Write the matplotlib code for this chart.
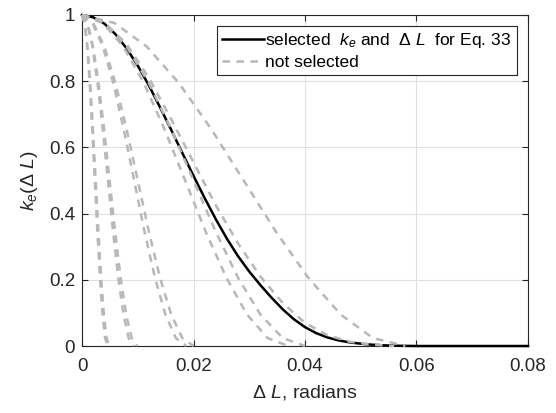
import matplotlib
matplotlib.use("Agg")
import matplotlib.pyplot as plt
from matplotlib.ticker import FormatStrFormatter

plt.rcParams['font.family'] = ['Liberation Sans', 'DejaVu Sans']
plt.rcParams['mathtext.fontset'] = 'custom'
plt.rcParams['mathtext.rm'] = 'Liberation Sans'
plt.rcParams['mathtext.it'] = 'Liberation Sans:italic'

# selected curve
sel_x = [0, 0.002, 0.004, 0.006, 0.008, 0.010, 0.012, 0.014, 0.016, 0.018,
         0.020, 0.022, 0.024, 0.026, 0.028, 0.030, 0.032, 0.034, 0.036, 0.038,
         0.040, 0.042, 0.044, 0.046, 0.048, 0.050, 0.052, 0.054, 0.056, 0.058,
         0.060, 0.080]
sel_y = [1, 0.993, 0.974, 0.942, 0.899, 0.847, 0.787, 0.721, 0.653, 0.583,
         0.514, 0.447, 0.383, 0.324, 0.271, 0.225, 0.184, 0.146, 0.111, 0.081,
         0.057, 0.039, 0.026, 0.017, 0.011, 0.007, 0.004, 0.0022, 0.0011, 0.0004,
         0, 0]

# not selected curves: levels shared by the taper curves, x per curve
grey_levels = [1, 0.976, 0.905, 0.794, 0.655, 0.5, 0.345, 0.206, 0.095, 0.024, 0]
grey_x = [
    [0, .00046, .00092, .00138, .00184, .0023, .00276, .00322, .00368, .00414, .0046],
    [0, .00049, .00098, .00147, .00196, .00245, .00294, .00343, .00392, .00441, .0049],
    [0, .00093, .00186, .00279, .00372, .00465, .00558, .00651, .00744, .00837, .0093],
    [0, .00099, .00198, .00297, .00396, .00495, .00594, .00693, .00792, .00891, .0099],
    [0, .00187, .00374, .00561, .00748, .00935, .01122, .01309, .01496, .01683, .0187],
    [0, .002, .004, .006, .008, .010, .012, .014, .016, .018, .020],
    [0, .0037, .0074, .0111, .0148, .0185, .0222, .0259, .0296, .0333, .037],
    [0, .004, .008, .012, .016, .020, .024, .028, .032, .036, .040],
    [0, .0058, .0116, .0174, .0232, .029, .0348, .0406, .0464, .0522, .058],
]

# grey curve that hugs the selected one
hug_x = [0, 0.004, 0.008, 0.012, 0.016, 0.020, 0.024, 0.028, 0.032, 0.036,
         0.040, 0.044, 0.048, 0.052, 0.056]
hug_y = [1, 0.978, 0.912, 0.81, 0.685, 0.555, 0.425, 0.31, 0.21, 0.13,
         0.07, 0.033, 0.013, 0.004, 0]

grey = (0.72, 0.72, 0.72)
dark = (0.15, 0.15, 0.15)
dash = (3.0, 2.6)

fig = plt.figure(figsize=(5.56, 4.13), dpi=100)
ax = fig.add_axes([0.1475, 0.1622, 0.8021, 0.8015])

ax.plot(sel_x, sel_y, color='black', lw=1.8, label=r'selected  $k_e$ and  $\Delta\ L$  for Eq. 33',
        clip_on=False, zorder=3)
first = True
for xs in grey_x:
    ax.plot(xs, grey_levels, color=grey, lw=1.8, dashes=dash, clip_on=False, zorder=4,
            label='not selected' if first else None)
    first = False
ax.plot(hug_x, hug_y, color=grey, lw=1.8, dashes=dash, clip_on=False, zorder=4)

ax.set_xlim(0, 0.08)
ax.set_ylim(0, 1)
ax.set_xticks([0, 0.02, 0.04, 0.06, 0.08])
ax.set_yticks([0, 0.2, 0.4, 0.6, 0.8, 1])
ax.xaxis.set_major_formatter(FormatStrFormatter('%g'))
ax.yaxis.set_major_formatter(FormatStrFormatter('%g'))
ax.grid(True, color=(0.88, 0.88, 0.88), lw=0.8)
ax.set_axisbelow(True)
ax.tick_params(direction='in', length=4, width=0.8, labelsize=13.5, colors=dark,
               top=True, right=True, pad=5)
ax.tick_params(axis='x', pad=8.5)
for s in ax.spines.values():
    s.set_color(dark)
    s.set_linewidth(0.8)

ax.set_xlabel(r'$\Delta\ L$, radians', fontsize=14, color=dark, labelpad=6)
ax.set_ylabel(r'$k_e(\Delta\ L)$', fontsize=14, color=dark, labelpad=6)

leg = ax.legend(loc='upper right', fontsize=12.5, handlelength=2.4, handletextpad=0.1,
                borderaxespad=0.65, fancybox=False, framealpha=1, borderpad=0.3,
                labelspacing=0.25)
leg.get_frame().set_edgecolor(dark)
leg.get_frame().set_linewidth(0.8)

fig.savefig('out.png', dpi=100)
